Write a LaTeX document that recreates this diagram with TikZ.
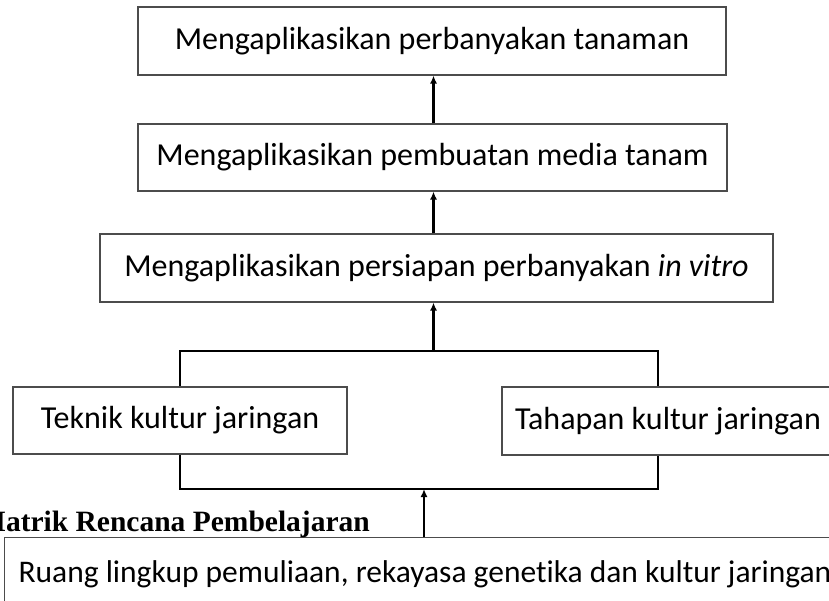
\documentclass[tikz,border=0pt]{standalone}
\usepackage{fontspec}
\setmainfont{Carlito}[Ligatures=NoCommon]
\newfontfamily\tnr{Liberation Serif}
\usetikzlibrary{arrows.meta,calc}
\tikzset{
  box/.style={draw=black!70, line width=1.1pt, fill=white, inner sep=0pt,
    font=\fontsize{32}{38}\selectfont, align=center},
  conn/.style={draw=black, line width=2.6pt},
  arr/.style={conn, -{Latex[length=8pt,width=7pt]}},
}
\begin{document}
\begin{tikzpicture}[x=1pt,y=-1pt]
\useasboundingbox (0,0) rectangle (829,601);
\clip (0,0) rectangle (829,601);
% boxes
\node[box, minimum width=588pt, minimum height=68pt] (b1) at (432,41) {Mengaplikasikan perbanyakan tanaman};
\node[box, minimum width=589pt, minimum height=67pt] (b2) at (432.5,157.5) {Mengaplikasikan pembuatan media tanam};
\node[box, minimum width=673pt, minimum height=68pt] (b3) at (436.5,268) {Mengaplikasikan persiapan perbanyakan \textit{in vitro}};
\node[box, minimum width=334pt, minimum height=67pt] (tek) at (180,420.5) {Teknik kultur jaringan};
\node[box, minimum width=332pt, minimum height=68pt] (tah) at (668,421) {Tahapan kultur jaringan};
\node[box, anchor=north west, inner xsep=14pt, font=\fontsize{31.5}{38}\selectfont,
      inner ysep=22pt, text height=23pt, text depth=8pt] (bot) at (4,537)
      {\makebox[900pt][l]{Ruang lingkup pemuliaan, rekayasa genetika dan kultur jaringan}};
\node[anchor=base east, inner sep=0pt, font=\tnr\bfseries\fontsize{29.5}{34}\selectfont] (title) at (370,531) {Matrik Rencana Pembelajaran};
% reference coordinates
\coordinate (ax) at (433.5,0);
\coordinate (xl) at (180,0);
\coordinate (xr) at (658,0);
\coordinate (j1) at (433.5,351);
\coordinate (j2) at (424,489);
% connectors
\draw[arr] (b2.north -| ax) -- (b1.south -| ax);
\draw[arr] (b3.north -| ax) -- (b2.south -| ax);
\draw[arr] (j1) -- (b3.south -| j1);
\draw[conn] (tek.north -| xl) |- (j1) -| (tah.north -| xr);
\draw[conn] (tek.south -| xl) |- (j2) -| (tah.south -| xr);
\draw[arr] (bot.north -| j2) -- (j2);
\end{tikzpicture}
\end{document}
